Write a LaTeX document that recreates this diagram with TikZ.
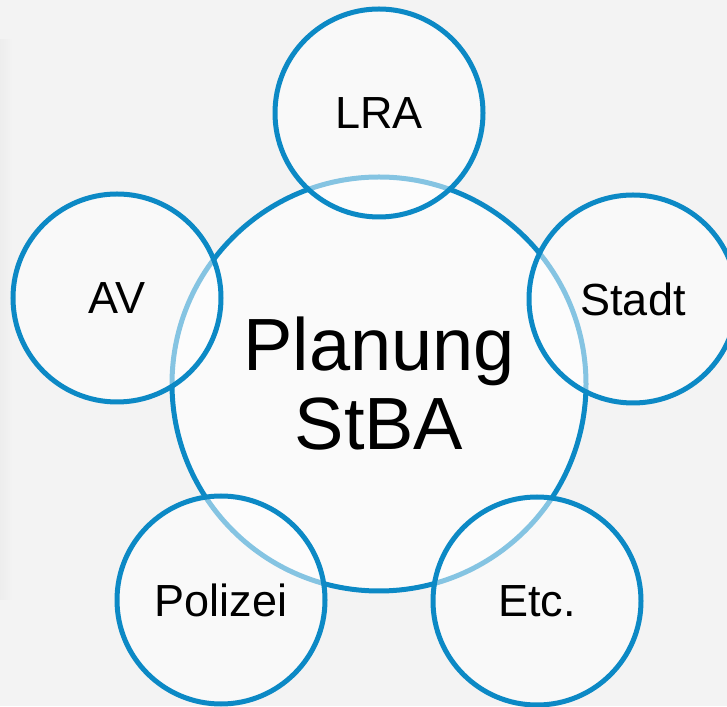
\documentclass[tikz,border=0pt]{standalone}
\usepackage{fontspec}
\setmainfont{Liberation Sans}
\usetikzlibrary{positioning}
\definecolor{ringblue}{RGB}{12,137,197}
\definecolor{paper}{RGB}{243,243,243}
\begin{document}
\begin{tikzpicture}[x=1pt,y=1pt,on grid,
        hub/.style={circle,draw=ringblue,line width=5pt,fill=white,fill opacity=0.65,text opacity=1,
          inner sep=0pt,minimum size=414pt,align=center,font=\fontsize{74}{79}\selectfont},
        partner/.style={circle,draw=ringblue,line width=5pt,fill=white,fill opacity=0.5,text opacity=1,
          inner sep=0pt,minimum size=208pt,font=\fontsize{45}{50}\selectfont}]

\fill[paper] (0,0) rectangle (727,706);
\shade[left color=black!7,right color=paper] (0,106) rectangle (13,666);
\useasboundingbox (0,0) rectangle (727,706);

\node[hub] (planung) at (379,322) {Planung\\StBA};
 \node[partner] (lra) [above=271pt of planung] {LRA};
 \node[partner] (av) [above left=86pt and 262pt of planung] {AV};
 \node[partner] (stadt) [above right=85pt and 254pt of planung] {Stadt};
 \node[partner] (polizei) [below left=216pt and 158pt of planung] {Polizei};
 \node[partner] (etc) [below right=217pt and 158pt of planung] {Etc.};

\end{tikzpicture}
\end{document}
